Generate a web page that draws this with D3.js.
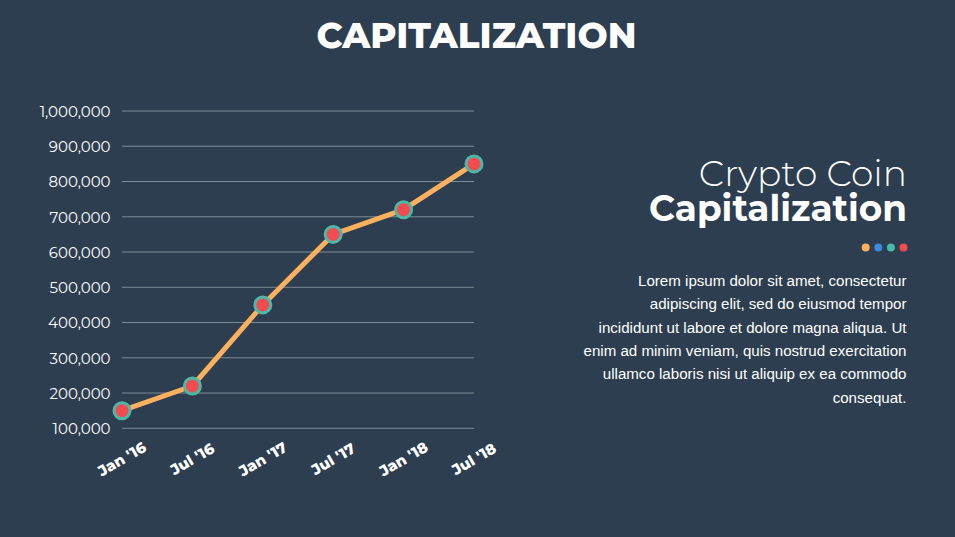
<!DOCTYPE html>
<html>
<head>
<meta charset="utf-8">
<script src="https://cdn.jsdelivr.net/npm/d3@7"></script>
<style>
  html, body { margin: 0; padding: 0; background: #2C3E50; }
  svg { display: block; }
</style>
</head>
<body>
<svg id="chart" width="955" height="537"></svg>
<script>
// ---- Data ----
const categories = ["Jan '16", "Jul '16", "Jan '17", "Jul '17", "Jan '18", "Jul '18"];
const values = [150000, 220000, 450000, 650000, 720000, 850000];
const yTicks = [100000, 200000, 300000, 400000, 500000, 600000, 700000, 800000, 900000, 1000000];
const titleText = "CAPITALIZATION";
const headingLight = "Crypto Coin";
const headingBold = "Capitalization";
const paragraphLines = [
  "Lorem ipsum dolor sit amet, consectetur",
  "adipiscing elit, sed do eiusmod tempor",
  "incididunt ut labore et dolore magna aliqua. Ut",
  "enim ad minim veniam, quis nostrud exercitation",
  "ullamco laboris nisi ut aliquip ex ea commodo",
  "consequat."
];
const dotColors = ["#FDB05E", "#3A8BDB", "#4DB8A8", "#F24B50"];

// ---- Layout ----
const bg = "#2C3E50";
const headFont = "'Montserrat', 'Open Sans', 'Noto Sans', sans-serif";
const bodyFont = "'Helvetica Neue', Helvetica, 'Liberation Sans', Arial, sans-serif";
const plot = { left: 122, right: 474, top: 111, bottom: 428.3 };

const svg = d3.select("#chart");
svg.append("rect").attr("width", 955).attr("height", 537).attr("fill", bg);

// Title
svg.append("text")
  .attr("x", 476.5).attr("y", 48)
  .attr("text-anchor", "middle")
  .attr("fill", "#ffffff")
  .attr("font-family", headFont)
  .attr("font-weight", 800)
  .attr("font-size", 35.7)
  .text(titleText);

// Scales
const x = d3.scalePoint().domain(categories).range([plot.left, plot.right]).padding(0);
const y = d3.scaleLinear().domain([100000, 1000000]).range([plot.bottom, plot.top]);

// Grid lines
svg.append("g")
  .selectAll("line")
  .data(yTicks)
  .join("line")
  .attr("x1", plot.left).attr("x2", plot.right)
  .attr("y1", d => y(d)).attr("y2", d => y(d))
  .attr("stroke", "#7E8B98")
  .attr("stroke-width", 1);

// Y axis labels
const yAxis = d3.axisLeft(y).tickValues(yTicks).tickFormat(d3.format(",")).tickSize(0).tickPadding(0);
const yg = svg.append("g").attr("transform", `translate(110.5,0)`).call(yAxis);
yg.select(".domain").remove();
yg.selectAll("text")
  .attr("fill", "#ffffff")
  .attr("font-family", headFont)
  .attr("font-size", 15)
  .attr("dy", "0.36em");

// X axis labels
const xAxis = d3.axisBottom(x).tickSize(0).tickPadding(0);
const xg = svg.append("g").call(xAxis);
xg.select(".domain").remove();
xg.selectAll(".tick").attr("transform", d => `translate(${x(d)},459)`);
xg.selectAll("text")
  .attr("fill", "#ffffff")
  .attr("font-family", headFont)
  .attr("font-weight", 800)
  .attr("font-size", 15)
  .attr("text-anchor", "middle")
  .attr("y", 0)
  .attr("dy", "0.35em")
  .attr("transform", "rotate(-30)");

// Line
const line = d3.line().x((d, i) => x(categories[i])).y(d => y(d));
svg.append("path")
  .datum(values)
  .attr("d", line)
  .attr("fill", "none")
  .attr("stroke", "#FDB05E")
  .attr("stroke-width", 5)
  .attr("stroke-linejoin", "round");

// Points
svg.append("g")
  .selectAll("circle")
  .data(values)
  .join("circle")
  .attr("cx", (d, i) => x(categories[i]))
  .attr("cy", d => y(d))
  .attr("r", 8)
  .attr("fill", "#F24B50")
  .attr("stroke", "#4DB8A8")
  .attr("stroke-width", 3);

// Right side heading (two lines in one text block)
const heading = svg.append("text")
  .attr("text-anchor", "end")
  .attr("fill", "#ffffff")
  .attr("font-family", headFont);
heading.append("tspan")
  .attr("x", 907).attr("y", 186)
  .attr("font-weight", 300)
  .attr("font-size", 36)
  .text(headingLight);
heading.append("tspan")
  .attr("x", 907).attr("y", 221)
  .attr("font-weight", 700)
  .attr("font-size", 35.8)
  .text(headingBold);

// Colored dots
svg.append("g")
  .selectAll("circle")
  .data(dotColors)
  .join("circle")
  .attr("cx", (d, i) => 865.7 + i * 12.6)
  .attr("cy", 247.5)
  .attr("r", 4)
  .attr("fill", d => d);

// Paragraph
svg.append("g")
  .selectAll("text")
  .data(paragraphLines)
  .join("text")
  .attr("x", 906.5)
  .attr("y", (d, i) => 286 + i * 23.3)
  .attr("text-anchor", "end")
  .attr("fill", "#ffffff")
  .attr("font-family", bodyFont)
  .attr("font-size", 15.1)
  .text(d => d);
</script>
</body>
</html>
